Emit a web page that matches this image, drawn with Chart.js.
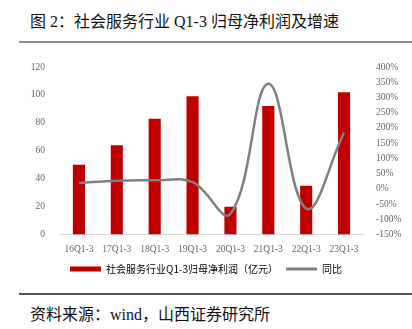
<!DOCTYPE html>
<html>
<head>
<meta charset="utf-8">
<script src="https://cdn.jsdelivr.net/npm/chart.js@4/dist/chart.umd.min.js"></script>
<style>
  html, body { margin: 0; padding: 0; background: #fff; }
  body { width: 412px; height: 329px; position: relative; overflow: hidden; font-family: "Liberation Serif", "Noto Sans CJK SC", serif; }
  .title { position: absolute; left: 30px; top: 8px; font-size: 16px; color: #111; white-space: nowrap; }
  .rule { position: absolute; left: 19px; width: 393px; height: 2px; background: #8c8c8c; }
  .source { position: absolute; left: 30px; top: 301px; font-size: 16px; color: #111; white-space: nowrap; }
  #wrap { position: absolute; left: 0; top: 50px; width: 412px; height: 235px; }
</style>
</head>
<body>
<div class="title">图 2：社会服务行业 Q1-3 归母净利润及增速</div>
<div class="rule" style="top:41px"></div>
<div id="wrap"><canvas id="chart"></canvas></div>
<div class="rule" style="top:293px;background:#555"></div>
<div class="source">资料来源：wind，山西证券研究所</div>
<script>
// ---- data ----
const categories = ['16Q1-3', '17Q1-3', '18Q1-3', '19Q1-3', '20Q1-3', '21Q1-3', '22Q1-3', '23Q1-3'];
const profit = [50, 64, 83, 99, 20, 92, 35, 102];          // 亿元
const growth = [19, 27, 28, 22, -82, 345, -64, 185];       // %
const barLabel = '社会服务行业Q1-3归母净利润（亿元）';
const lineLabel = '同比';

const tickFont = { family: '"Liberation Serif", serif', size: 9.5 };
const tickColor = '#666';

new Chart(document.getElementById('chart'), {
    data: {
        labels: categories,
        datasets: [
            {
                type: 'line',
                label: lineLabel,
                data: growth,
                yAxisID: 'y1',
                borderColor: '#7f7f7f',
                borderWidth: 2.5,
                pointRadius: 0,
                tension: 0.4,
                order: 0
            },
            {
                type: 'bar',
                label: barLabel,
                data: profit,
                yAxisID: 'y',
                backgroundColor: '#c00000',
                categoryPercentage: 1,
                barPercentage: 0.32,
                order: 1
            }
        ]
    },
    options: {
        responsive: true,
        maintainAspectRatio: false,
        animation: false,
        layout: { padding: { top: 17, left: 0, right: 0, bottom: 1 } },
        plugins: {
            tooltip: { enabled: false },
            legend: {
                position: 'bottom',
                labels: {
                    usePointStyle: true,
                    pointStyleWidth: 31,
                    boxHeight: 5,
                    padding: 8,
                    color: '#595959',
                    font: { family: '"Noto Sans CJK SC", sans-serif', size: 10 },
                    generateLabels: (chart) => [
                        { text: barLabel, fillStyle: '#c00000', strokeStyle: '#c00000', lineWidth: 0, pointStyle: 'rect', datasetIndex: 1 },
                        { text: lineLabel, fillStyle: '#7f7f7f', strokeStyle: '#7f7f7f', lineWidth: 3, pointStyle: 'line', datasetIndex: 0 }
                    ]
                }
            }
        },
        scales: {
            x: {
                grid: { display: false },
                border: { color: '#d9d9d9' },
                ticks: { color: tickColor, font: tickFont, padding: 1, maxRotation: 0 }
            },
            y: {
                position: 'left',
                min: 0, max: 120,
                grid: { display: false },
                border: { display: false },
                ticks: { stepSize: 20, color: tickColor, font: tickFont, padding: 7 },
                afterFit: (s) => { s.width = 60; }
            },
            y1: {
                position: 'right',
                min: -150, max: 400,
                grid: { display: false },
                border: { display: false },
                ticks: { stepSize: 50, color: tickColor, font: tickFont, padding: 5, callback: (v) => v + '%' },
                afterFit: (s) => { s.width = 49; }
            }
        }
    }
});
</script>
</body>
</html>
